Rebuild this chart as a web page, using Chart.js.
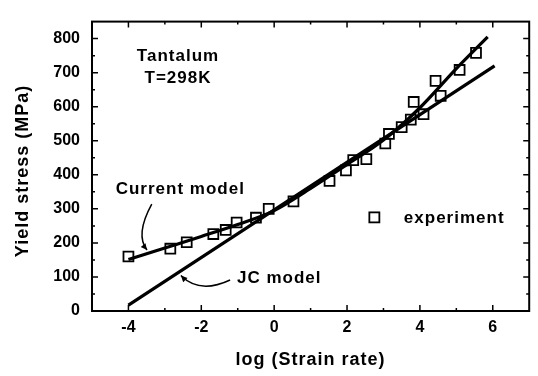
<!DOCTYPE html>
<html>
<head>
<meta charset="utf-8">
<script src="https://cdn.jsdelivr.net/npm/chart.js@4.4.0/dist/chart.umd.min.js"></script>
<style>
  html, body { margin: 0; padding: 0; background: #fff; }
  #wrap { width: 538px; height: 376px; }
</style>
</head>
<body>
<div id="wrap"><canvas id="yieldChart" width="538" height="376"></canvas></div>
<script>
// experiment: log(strain rate) vs yield stress (MPa)
var expLogRate = [-4.0, -2.85, -2.4, -1.67, -1.33, -1.03, -0.5, -0.15, 0.53, 1.52, 1.97, 2.17, 2.53, 3.05, 3.15, 3.5, 3.75, 3.83, 4.1, 4.43, 4.57, 5.09, 5.54];
var expStress  = [160, 183, 202, 226, 238, 260, 274, 300, 322, 382, 413, 443, 446, 492, 520, 540, 562, 614, 578, 676, 632, 708, 758];

// Johnson-Cook model (straight line in log rate)
var jcLogRate = [-4, 6.05];
var jcStress  = [17, 720];

// current model curve
var modelLogRate = [-4, -3, -2, -1, 0, 1, 2, 3, 4, 5, 5.86];
var modelStress  = [151, 185, 219, 254, 295, 360, 430, 502, 597, 712, 805];

var xTicks = [-4, -2, 0, 2, 4, 6];
var xMinor = [-3, -1, 1, 3, 5];
var yTicks = [0, 100, 200, 300, 400, 500, 600, 700, 800];
var yMinor = [50, 150, 250, 350, 450, 550, 650, 750];

function toXY(xs, ys) {
  return xs.map(function (x, i) { return { x: x, y: ys[i] }; });
}

var FONT = '"Liberation Sans", Arial, sans-serif';

function pos(chart, x, y) {
  return [chart.scales.x.getPixelForValue(x), chart.scales.y.getPixelForValue(y)];
}

function curvedArrow(ctx, chart, p0, p1, p2) {
  var a = pos(chart, p0[0], p0[1]);
  var c = pos(chart, p1[0], p1[1]);
  var b = pos(chart, p2[0], p2[1]);
  ctx.beginPath();
  ctx.moveTo(a[0], a[1]);
  ctx.quadraticCurveTo(c[0], c[1], b[0], b[1]);
  ctx.stroke();
  var ang = Math.atan2(b[1] - c[1], b[0] - c[0]);
  ctx.beginPath();
  ctx.moveTo(b[0], b[1]);
  ctx.lineTo(b[0] - 7 * Math.cos(ang - 0.45), b[1] - 7 * Math.sin(ang - 0.45));
  ctx.lineTo(b[0] - 7 * Math.cos(ang + 0.45), b[1] - 7 * Math.sin(ang + 0.45));
  ctx.closePath();
  ctx.fill();
}

var decorations = {
  id: 'decorations',
  afterDraw: function (chart) {
    var ctx = chart.ctx;
    var area = chart.chartArea;
    var xs = chart.scales.x, ys = chart.scales.y;
    ctx.save();
    ctx.strokeStyle = '#000';
    ctx.fillStyle = '#000';

    // frame
    ctx.lineWidth = 2;
    ctx.strokeRect(area.left, area.top, area.right - area.left, area.bottom - area.top);

    // inward ticks on all four sides
    ctx.lineWidth = 1.5;
    ctx.beginPath();
    function xTick(v, len) {
      var p = xs.getPixelForValue(v);
      ctx.moveTo(p, area.bottom); ctx.lineTo(p, area.bottom - len);
      ctx.moveTo(p, area.top); ctx.lineTo(p, area.top + len);
    }
    function yTick(v, len) {
      var p = ys.getPixelForValue(v);
      ctx.moveTo(area.left, p); ctx.lineTo(area.left + len, p);
      ctx.moveTo(area.right, p); ctx.lineTo(area.right - len, p);
    }
    xTicks.forEach(function (v) { xTick(v, 6); });
    xMinor.forEach(function (v) { xTick(v, 3); });
    yTicks.forEach(function (v) { yTick(v, 6); });
    yMinor.forEach(function (v) { yTick(v, 3); });
    ctx.stroke();

    // annotation text
    ctx.font = 'bold 17px ' + FONT;
    ctx.letterSpacing = '1px';
    ctx.textBaseline = 'middle';
    ctx.textAlign = 'center';
    var t = pos(chart, -2.64, 748);
    ctx.fillText('Tantalum', t[0], t[1]);
    t = pos(chart, -2.64, 683);
    ctx.fillText('T=298K', t[0], t[1]);
    ctx.textAlign = 'left';
    t = pos(chart, -4.35, 358);
    ctx.fillText('Current model', t[0], t[1]);
    t = pos(chart, -1.02, 97);
    ctx.fillText('JC model', t[0], t[1]);
    t = pos(chart, 3.56, 273);
    ctx.fillText('experiment', t[0], t[1]);

    // legend marker
    t = pos(chart, 2.75, 275);
    ctx.lineWidth = 1.8;
    ctx.strokeRect(t[0] - 5, t[1] - 5, 10, 10);

    // arrows
    ctx.lineWidth = 1.5;
    curvedArrow(ctx, chart, [-3.36, 314], [-3.82, 224], [-3.49, 179]);
    curvedArrow(ctx, chart, [-1.21, 91], [-2.05, 49], [-2.56, 104]);

    // axis titles
    ctx.font = 'bold 18px ' + FONT;
    ctx.textAlign = 'center';
    ctx.fillText('log (Strain rate)', (area.left + area.right) / 2, 360);
    ctx.translate(23, 171);
    ctx.rotate(-Math.PI / 2);
    ctx.fillText('Yield stress (MPa)', 0, 0);
    ctx.restore();
  }
};

var ctx = document.getElementById('yieldChart').getContext('2d');
var yieldChart = new Chart(ctx, {
  type: 'scatter',
  data: {
    datasets: [
      {
        label: 'experiment',
        data: toXY(expLogRate, expStress),
        pointStyle: 'rect',
        pointRadius: 7,
        pointBorderWidth: 1.8,
        borderColor: '#000',
        backgroundColor: 'rgba(0,0,0,0)'
      },
      {
        label: 'JC model',
        data: toXY(jcLogRate, jcStress),
        showLine: true,
        borderColor: '#000',
        borderWidth: 3.2,
        pointRadius: 0
      },
      {
        label: 'Current model',
        data: toXY(modelLogRate, modelStress),
        showLine: true,
        borderColor: '#000',
        borderWidth: 3.2,
        pointRadius: 0,
        tension: 0.4,
        cubicInterpolationMode: 'monotone'
      }
    ]
  },
  options: {
    responsive: false,
    animation: false,
    devicePixelRatio: 1,
    layout: { padding: { left: 0, right: 5, top: 7, bottom: 0 } },
    plugins: { legend: { display: false }, tooltip: { enabled: false } },
    scales: {
      x: {
        type: 'linear',
        min: -5,
        max: 7,
        grid: { display: false, drawTicks: false },
        border: { display: false },
        ticks: { color: '#000', padding: 7, font: { family: FONT, size: 16, weight: 'bold' } },
        afterBuildTicks: function (s) { s.ticks = xTicks.map(function (v) { return { value: v }; }); },
        afterFit: function (s) { s.height = 65; }
      },
      y: {
        type: 'linear',
        min: 0,
        max: 850,
        grid: { display: false, drawTicks: false },
        border: { display: false },
        ticks: { color: '#000', padding: 12, font: { family: FONT, size: 16, weight: 'bold' } },
        afterBuildTicks: function (s) { s.ticks = yTicks.map(function (v) { return { value: v }; }); },
        afterFit: function (s) { s.width = 92; }
      }
    }
  },
  plugins: [decorations]
});
</script>
</body>
</html>
